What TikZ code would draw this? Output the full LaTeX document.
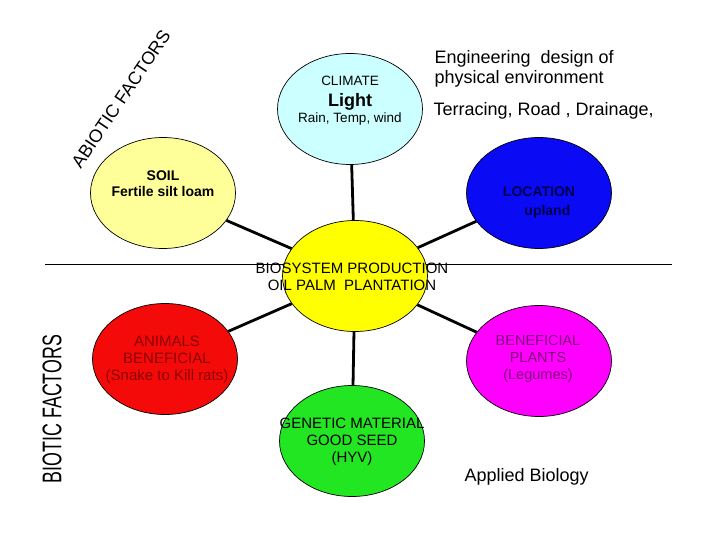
\documentclass[tikz,border=0pt]{standalone}
\usepackage{fontspec}
\setmainfont{Liberation Sans}
\usetikzlibrary{shapes.geometric}
\definecolor{climatefill}{HTML}{CCFFFF}
\definecolor{soilfill}{HTML}{FFFF99}
\definecolor{locfill}{HTML}{0A0AF5}
\definecolor{locink}{HTML}{00004D}
\definecolor{prodfill}{HTML}{FFFF00}
\definecolor{animalfill}{HTML}{F50A0A}
\definecolor{animalink}{HTML}{8C0000}
\definecolor{plantfill}{HTML}{FF00FF}
\definecolor{plantink}{HTML}{80007A}
\definecolor{genefill}{HTML}{22E622}
\newcommand{\fs}[1]{\fontsize{#1}{1.15\dimexpr#1pt\relax}\selectfont}

\begin{document}
\begin{tikzpicture}[x=1pt,y=-1pt,
		bubble/.style={ellipse,draw,line width=0.7pt,minimum width=145pt,minimum height=111pt,inner sep=0pt},
		spoke/.style={line width=2.8pt},
		inside/.style={align=center,font=\fs{14.5}}]
		
		\useasboundingbox (0,0) rectangle (720,540);
		
		\coordinate (LineL) at (45,264);
		\coordinate (LineR) at (672,264);
		\draw[line width=0.6pt] (LineL) -- (LineR);
		
		\node[bubble,fill=prodfill] (Prod) at (355,276) {};
		\node[bubble,fill=climatefill] (Climate) at (350,109) {};
		\node[bubble,fill=soilfill] (Soil) at (163,193) {};
		\node[bubble,fill=locfill] (Location) at (539,193) {};
		\node[bubble,fill=animalfill] (Animals) at (165,359) {};
		\node[bubble,fill=plantfill] (Plants) at (539,361) {};
		\node[bubble,fill=genefill] (Genetic) at (352,441) {};
		
		\foreach \n in {Climate,Soil,Location,Animals,Plants,Genetic}
			\draw[spoke] (Prod) -- (\n);
		
		\node[inside,font=\fs{15},align=center] (ProdText) at (352,277) {BIOSYSTEM PRODUCTION\\OIL PALM\ \ PLANTATION};
		\node[inside,font=\fs{13.5}] (ClimateText) at (350,101) {CLIMATE\\[5pt]{\fs{18}\bfseries Light}\\[1pt]Rain, Temp, wind};
		\node[inside,font=\fs{14}\bfseries] (SoilText) at (163,184) {SOIL\\Fertile silt loam};
		\node[inside,font=\fs{14}\bfseries,text=locink] (LocText) at (539,203) {LOCATION\\[3pt]\hspace*{1.2em}upland};
		\node[inside,font=\fs{15},text=animalink] (AnimalText) at (167,360) {ANIMALS\\BENEFICIAL\\(Snake to Kill rats)};
		\node[inside,text=plantink] (PlantText) at (538,359) {BENEFICIAL\\PLANTS\\(Legumes)};
		\node[inside,font=\fs{15}] (GeneText) at (352,442) {GENETIC MATERIAL\\GOOD SEED\\(HYV)};
		
		\node[anchor=west,align=left,font=\fs{18}] (Engineering) at (431,69) {Engineering\ \ design of\\[-1pt]physical environment};
		\node[anchor=west,font=\fs{18}] (Terracing) at (430,111) {Terracing, Road , Drainage,};
		\node[anchor=west,font=\fs{18}] (Applied) at (461,477) {Applied Biology};
		
		\node[font=\fs{18},rotate=56] (Abiotic) at (121,99) {ABIOTIC FACTORS};
		\node[font=\fs{27},rotate=90,xscale=0.66] (Biotic) at (52,409) {BIOTIC FACTORS};
		
\end{tikzpicture}
\end{document}
